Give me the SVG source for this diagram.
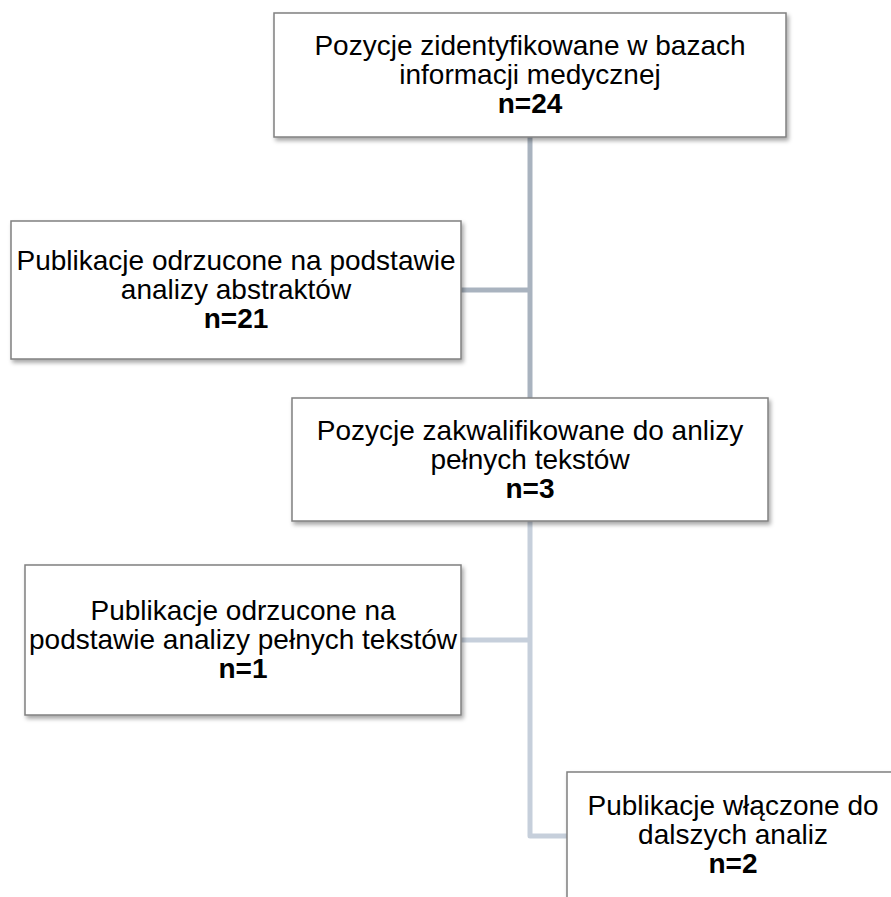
<svg xmlns="http://www.w3.org/2000/svg" width="891" height="897" viewBox="0 0 891 897">
  <defs>
    <filter id="sh" x="-10%" y="-10%" width="120%" height="130%">
      <feDropShadow dx="2" dy="3" stdDeviation="2" flood-color="#000" flood-opacity="0.35"/>
    </filter>
    <style>
      .box { fill: #ffffff; stroke: #808080; stroke-width: 1.5; filter: url(#sh); }
      .t { font-family: "Liberation Sans", Arial, sans-serif; font-size: 28px; fill: #000; text-anchor: middle; }
      .b { font-weight: bold; }
      .c1 { fill: none; stroke: #a9b3bf; stroke-width: 5; }
      .c2 { fill: none; stroke: #c6cfdb; stroke-width: 5; stroke-linejoin: round; }
    </style>
  </defs>
  <rect width="891" height="897" fill="#ffffff"/>
  <g id="connectors">
    <line class="c1" x1="530" y1="137" x2="530" y2="398"/>
    <line class="c1" x1="461" y1="290" x2="530" y2="290"/>
    <polyline class="c2" points="530,521 530,836 567,836"/>
    <line class="c2" x1="461" y1="640" x2="530" y2="640"/>
  </g>
  <g id="node1">
    <rect class="box" x="274" y="13" width="512" height="124"/>
    <text class="t" x="530" y="55">Pozycje zidentyfikowane w bazach</text>
    <text class="t" x="530" y="84">informacji medycznej</text>
    <text class="t b" x="530" y="113">n=24</text>
  </g>
  <g id="node2">
    <rect class="box" x="11" y="221" width="450" height="138"/>
    <text class="t" x="236" y="270">Publikacje odrzucone na podstawie</text>
    <text class="t" x="236" y="299">analizy abstraktów</text>
    <text class="t b" x="236" y="328">n=21</text>
  </g>
  <g id="node3">
    <rect class="box" x="292" y="398" width="476" height="123"/>
    <text class="t" x="530" y="440">Pozycje zakwalifikowane do anlizy</text>
    <text class="t" x="530" y="469">pełnych tekstów</text>
    <text class="t b" x="530" y="498">n=3</text>
  </g>
  <g id="node4">
    <rect class="box" x="25" y="565" width="436" height="150"/>
    <text class="t" x="243" y="620">Publikacje odrzucone na</text>
    <text class="t" x="243" y="649">podstawie analizy pełnych tekstów</text>
    <text class="t b" x="243" y="678">n=1</text>
  </g>
  <g id="node5">
    <rect class="box" x="567" y="772" width="333" height="140"/>
    <text class="t" x="733" y="815">Publikacje włączone do</text>
    <text class="t" x="733" y="844">dalszych analiz</text>
    <text class="t b" x="733" y="873">n=2</text>
  </g>
</svg>
